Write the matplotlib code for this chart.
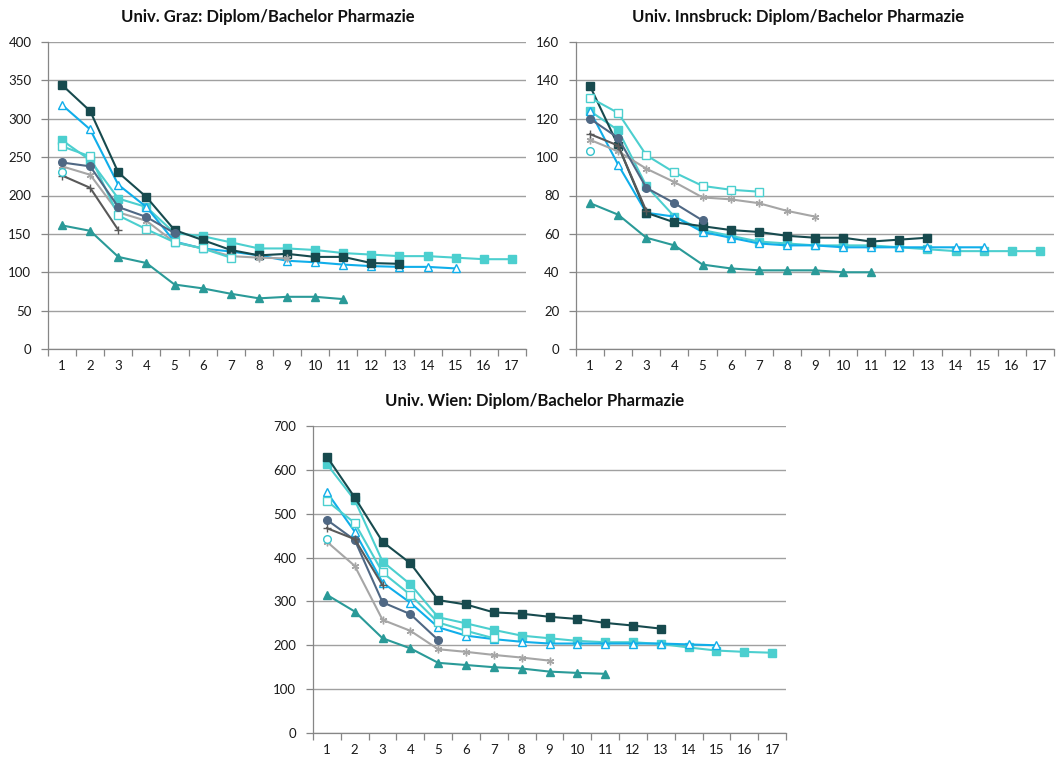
import numpy as np
import matplotlib
matplotlib.use("Agg")
import matplotlib.pyplot as plt

plt.rcParams['font.family'] = ['Lato', 'DejaVu Sans']

# Semester 1..17
semester = list(range(1, 18))

# Univ. Graz
graz_a = [272, 246, 196, 185, 151, 147, 139, 131, 131, 129, 125, 123, 121, 121, 119, 117, 117]
graz_b = [318, 286, 214, 185, 140, 131, 127, 122, 115, 113, 110, 108, 107, 107, 105]
graz_c = [344, 310, 230, 198, 155, 142, 129, 122, 124, 120, 120, 112, 111]
graz_d = [161, 154, 120, 112, 84, 79, 72, 66, 68, 68, 65]
graz_e = [238, 227, 178, 167, 139, 131, 121, 119, 118]
graz_f = [264, 251, 174, 156, 139, 131, 119]
graz_g = [243, 238, 185, 172, 151]
graz_h = [226, 210, 155]
graz_i = [231]

# Univ. Innsbruck
ibk_a = [124, 114, 85, 69, 62, 59, 56, 55, 54, 54, 54, 53, 52, 51, 51, 51, 51]
ibk_b = [124, 96, 71, 69, 61, 58, 55, 54, 54, 53, 53, 53, 53, 53, 53]
ibk_c = [137, 106, 71, 66, 64, 62, 61, 59, 58, 58, 56, 57, 58]
ibk_d = [76, 70, 58, 54, 44, 42, 41, 41, 41, 40, 40]
ibk_e = [109, 103, 94, 87, 79, 78, 76, 72, 69]
ibk_f = [131, 123, 101, 92, 85, 83, 82]
ibk_g = [120, 110, 84, 76, 67]
ibk_h = [112, 106, 72]
ibk_i = [103]

# Univ. Wien
wien_a = [613, 531, 391, 339, 264, 250, 235, 222, 216, 210, 207, 207, 203, 195, 188, 185, 183]
wien_b = [549, 459, 343, 297, 241, 222, 214, 208, 204, 204, 204, 204, 204, 202, 200]
wien_c = [630, 537, 436, 387, 303, 293, 275, 272, 265, 260, 251, 245, 238]
wien_d = [315, 277, 216, 193, 160, 155, 150, 147, 140, 137, 135]
wien_e = [436, 381, 258, 233, 191, 185, 178, 172, 165]
wien_f = [529, 479, 366, 315, 252, 233, 216]
wien_g = [486, 440, 298, 271, 212]
wien_h = [467, 442, 337]
wien_i = [442]

# Linienstil je Kohorte: Farbe, Marker, gefuellt?
styles = [
    dict(color='#4CCFCF', marker='s', filled=True),    # a
    dict(color='#10AEEA', marker='^', filled=False),   # b
    dict(color='#174A4E', marker='s', filled=True),    # c
    dict(color='#2A9A98', marker='^', filled=True),    # d
    dict(color='#A6A6A6', marker=(6, 2, 0), filled=True),  # e
    dict(color='#4CCFCF', marker='s', filled=False),   # f
    dict(color='#4F6884', marker='o', filled=True),    # g
    dict(color='#595959', marker='+', filled=True),    # h
    dict(color='#34C3CC', marker='o', filled=False),   # i
]

W, H = 1056, 762
fig = plt.figure(figsize=(W / 100, H / 100), dpi=100)


def draw(box, series, ymax, ystep, title, title_x, title_y):
    l, t, r, b = box
    ax = fig.add_axes([l / W, 1 - b / H, (r - l) / W, (b - t) / H])
    for vals, st in zip(series, styles):
        x = semester[:len(vals)]
        face = st['color'] if st['filled'] else 'white'
        ms = 5.5 if st['marker'] != '+' else 6
        ax.plot(x, vals, color=st['color'], lw=1.5, marker=st['marker'],
                ms=ms, mfc=face, mec=st['color'], mew=1.0)
    ax.set_xlim(0.5, 17.5)
    ax.set_ylim(0, ymax)
    ax.set_yticks(np.arange(0, ymax + 1, ystep))
    ax.set_xticks(semester)
    ax.set_xticks(np.arange(0.5, 18, 1), minor=True)
    ax.tick_params(axis='x', which='major', length=0, pad=8, labelsize=9.5, labelcolor='#1a1a1a')
    ax.tick_params(axis='x', which='minor', length=5, color='#868686', width=0.9)
    ax.tick_params(axis='y', length=5, color='#868686', width=0.9, pad=7,
                   labelsize=9.5, labelcolor='#1a1a1a')
    ax.grid(axis='y', color='#A0A0A0', lw=1.0)
    ax.set_axisbelow(True)
    for s in ('top', 'right'):
        ax.spines[s].set_visible(False)
    for s in ('left', 'bottom'):
        ax.spines[s].set_color('#868686')
        ax.spines[s].set_linewidth(0.9)
    fig.text(title_x / W, 1 - title_y / H, title, ha='center', va='center',
             fontsize=12, fontweight='bold', color='#111111')
    return ax


draw((48, 42, 526, 349),
     [graz_a, graz_b, graz_c, graz_d, graz_e, graz_f, graz_g, graz_h, graz_i],
     400, 50, 'Univ. Graz: Diplom/Bachelor Pharmazie', 268, 17)
draw((576, 42, 1054, 349),
     [ibk_a, ibk_b, ibk_c, ibk_d, ibk_e, ibk_f, ibk_g, ibk_h, ibk_i],
     160, 20, 'Univ. Innsbruck: Diplom/Bachelor Pharmazie', 798, 17)
draw((313, 426, 786, 733),
     [wien_a, wien_b, wien_c, wien_d, wien_e, wien_f, wien_g, wien_h, wien_i],
     700, 100, 'Univ. Wien: Diplom/Bachelor Pharmazie', 535, 401)

fig.savefig('out.png', dpi=100)
